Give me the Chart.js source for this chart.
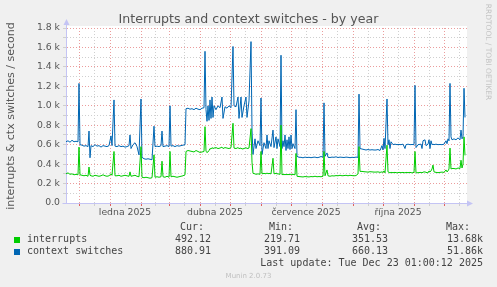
<!DOCTYPE html>
<html>
<head>
<meta charset="utf-8">
<title>Interrupts and context switches - by year</title>
<script src="https://cdn.jsdelivr.net/npm/chart.js@4/dist/chart.umd.min.js"></script>
<style>
  body { margin: 0; background: #f0f0f0; }
  #wrap { position: relative; width: 497px; height: 287px; overflow: hidden; font-family: "DejaVu Sans", sans-serif; color: #555; }
  #chart { position: absolute; left: 0; top: 0; }
  .t { position: absolute; white-space: pre; }
  .mono { font-family: "DejaVu Sans Mono", monospace; font-size: 10px; line-height: 12px; color: #444; }
  .sq { position: absolute; width: 6px; height: 6px; }
</style>
</head>
<body>
<div id="wrap">
  <canvas id="chart" width="497" height="287"></canvas>

  <div class="t" style="left:0; width:497px; top:12px; text-align:center; font-size:12.6px; line-height:14px; color:#555;">Interrupts and context switches - by year</div>
  <div class="t" style="left:-89px; top:109px; width:200px; text-align:center; font-size:11px; line-height:14px; color:#555; transform:rotate(-90deg);">interrupts &amp; ctx switches / second</div>
  <div class="t" style="left:438px; top:48px; width:100px; text-align:center; font-size:7.5px; line-height:8px; color:#c4c4c4; transform:rotate(90deg);">RRDTOOL / TOBI OETIKER</div>

  <div class="t mono" style="right:293px; top:221px;">Cur:</div>
  <div class="t mono" style="right:204px; top:221px;">Min:</div>
  <div class="t mono" style="right:116px; top:221px;">Avg:</div>
  <div class="t mono" style="right:27px; top:221px;">Max:</div>

  <div class="sq" style="left:14px; top:237px; background:#00cc00;"></div>
  <div class="t mono" style="left:27px; top:233px;">interrupts</div>
  <div class="t mono" style="right:286px; top:233px;">492.12</div>
  <div class="t mono" style="right:197px; top:233px;">219.71</div>
  <div class="t mono" style="right:109px; top:233px;">351.53</div>
  <div class="t mono" style="right:14px; top:233px;">13.68k</div>

  <div class="sq" style="left:14px; top:249px; background:#0066b3;"></div>
  <div class="t mono" style="left:27px; top:245px;">context switches</div>
  <div class="t mono" style="right:286px; top:245px;">880.91</div>
  <div class="t mono" style="right:197px; top:245px;">391.09</div>
  <div class="t mono" style="right:109px; top:245px;">660.13</div>
  <div class="t mono" style="right:14px; top:245px;">51.86k</div>

  <div class="t mono" style="right:14px; top:257px;">Last update: Tue Dec 23 01:00:12 2025</div>
  <div class="t" style="left:0; width:497px; top:272px; text-align:center; font-size:7px; line-height:8px; color:#c0c0c0;">Munin 2.0.73</div>
</div>

<script>
// Munin "by year" graph: interrupts and context switches.
// Day 0 = 18 Nov 2024, one unit on the x axis = one day.

// --- data ---

const days = [
  0, 2, 4, 6, 8, 10, 12, 13, 14, 16, 18, 20, 22, 23, 24, 25, 27, 29, 31, 33,
  35, 37, 39, 41, 43, 45, 46, 48, 49, 51, 53, 55, 57, 59, 61, 63, 64, 65, 67, 69,
  71, 73, 75, 76, 78, 80, 82, 84, 86, 88, 89, 91, 93, 95, 96, 97, 99, 101, 103, 104,
  105, 107, 109, 111, 113, 115, 117, 119, 120, 122, 124, 126, 128, 130, 132, 134, 136, 138, 139, 140,
  141, 142, 143, 144, 145, 146, 147, 148, 150, 152, 154, 156, 157, 159, 161, 163, 165, 167, 168, 170,
  172, 173, 175, 176, 178, 180, 181, 183, 185, 186, 187, 189, 190, 192, 194, 195, 196, 198, 200, 201,
  202, 203, 205, 207, 208, 210, 211, 212, 214, 215, 216, 217, 218, 219, 220, 221, 222, 223, 224, 225,
  226, 227, 229, 230, 231, 233, 235, 237, 239, 241, 243, 245, 247, 249, 251, 253, 255, 257, 258, 259,
  261, 262, 264, 266, 268, 270, 272, 274, 276, 278, 280, 282, 284, 286, 288, 290, 292, 293, 294, 296,
  298, 300, 302, 304, 306, 308, 310, 312, 314, 316, 317, 318, 319, 321, 322, 323, 324, 325, 327, 329,
  331, 333, 335, 337, 339, 340, 342, 344, 346, 348, 349, 350, 352, 355, 356, 357, 359, 360, 362, 363,
  364, 365, 366, 367, 368, 370, 372, 374, 376, 378, 380, 381, 382, 383, 384, 385, 386, 388, 390, 392,
  394, 395, 396, 397, 398, 399
];

const contextSwitches = [
  630, 640, 625, 645, 630, 635, 630, 1230, 600, 595, 585, 590, 580, 740, 465, 590, 580, 600, 585, 590,
  575, 590, 585, 580, 590, 690, 590, 1060, 585, 580, 590, 580, 585, 575, 580, 590, 700, 560, 600, 620,
  580, 495, 1070, 470, 455, 450, 455, 450, 445, 790, 580, 585, 580, 590, 740, 580, 585, 590, 580, 1000,
  585, 590, 580, 590, 585, 590, 595, 600, 970, 975, 965, 970, 960, 975, 965, 960, 975, 980, 1560, 960,
  840, 1000, 850, 1060, 870, 1090, 880, 1000, 960, 1000, 980, 1090, 870, 990, 975, 1000, 980, 1610, 1000, 990,
  1090, 870, 1090, 880, 1000, 1090, 880, 1050, 1660, 750, 500, 660, 560, 640, 590, 1080, 500, 620, 560, 700,
  560, 640, 580, 750, 570, 680, 560, 660, 580, 1520, 560, 640, 580, 700, 540, 650, 560, 680, 550, 700,
  560, 610, 560, 960, 480, 470, 470, 465, 472, 468, 470, 466, 470, 472, 466, 470, 478, 472, 1030, 480,
  515, 470, 468, 472, 470, 475, 468, 472, 470, 468, 472, 470, 466, 470, 468, 472, 470, 1120, 560, 555,
  550, 545, 550, 545, 548, 545, 545, 550, 540, 590, 545, 665, 560, 1070, 600, 650, 560, 630, 600, 605,
  600, 602, 600, 605, 560, 600, 605, 600, 602, 600, 1210, 570, 600, 605, 560, 640, 650, 590, 605, 650,
  560, 640, 600, 605, 600, 605, 600, 602, 600, 605, 640, 610, 660, 640, 1230, 680, 650, 660, 650, 670,
  650, 750, 660, 680, 1180, 880
];

const interrupts = [
  300, 310, 295, 300, 290, 295, 290, 575, 290, 285, 280, 285, 275, 370, 285, 280, 275, 285, 280, 275,
  280, 290, 280, 275, 280, 300, 285, 530, 280, 280, 285, 275, 280, 285, 280, 275, 320, 275, 280, 285,
  275, 270, 580, 265, 260, 265, 260, 255, 260, 495, 265, 270, 265, 270, 430, 270, 265, 275, 265, 530,
  270, 275, 270, 265, 270, 275, 280, 290, 530, 540, 535, 530, 525, 540, 530, 520, 525, 530, 785, 530,
  520, 525, 540, 560, 555, 570, 560, 565, 570, 560, 565, 575, 560, 570, 565, 560, 570, 820, 565, 560,
  570, 560, 565, 555, 560, 570, 560, 565, 765, 420, 305, 300, 295, 300, 295, 530, 300, 305, 300, 310,
  300, 305, 300, 460, 300, 305, 300, 300, 295, 800, 290, 295, 290, 295, 290, 295, 290, 295, 290, 300,
  290, 295, 290, 510, 275, 272, 270, 268, 272, 270, 268, 272, 270, 275, 270, 272, 270, 275, 530, 280,
  340, 280, 275, 280, 278, 282, 280, 285, 280, 282, 285, 280, 285, 282, 280, 282, 300, 580, 325, 325,
  322, 320, 318, 322, 320, 318, 318, 320, 315, 320, 315, 330, 310, 595, 320, 315, 310, 315, 312, 315,
  310, 315, 312, 315, 310, 315, 312, 315, 310, 315, 530, 310, 312, 315, 310, 318, 320, 315, 310, 330,
  320, 330, 350, 390, 320, 315, 312, 315, 318, 315, 340, 320, 330, 350, 565, 350, 355, 355, 350, 360,
  355, 440, 360, 400, 680, 490
];

// tick positions (days) and labels
const monthStarts = [13, 44, 75, 103, 134, 164, 195, 225, 256, 287, 317, 348, 378];
const midMonths = [28, 59, 89, 118, 149, 179, 210, 240, 271, 302, 332, 363, 393];
const xLabels = { 59: "ledna 2025", 149: "dubna 2025", 240: "července 2025", 332: "října 2025" };
const yTicks = [0, 100, 200, 300, 400, 500, 600, 700, 800, 900, 1000, 1100, 1200, 1300, 1400, 1500, 1600, 1700, 1800];

// --- style ---

const GREEN = "#00cc00";
const BLUE = "#0066b3";
const MAJOR_GRID = "#eb9c9c";
const MINOR_GRID = "#cfcfcf";
const AXIS = "#c4c4f4";
const TICK_FONT = { family: "DejaVu Sans", size: 9.3 };

function data_points(values) {
  return values.map(function (v, i) {
    return { x: days[i], y: v };
  });
}

// white plot area, axis arrows
const plotDecor = {
  id: "plotDecor",
  beforeDraw: function (chart) {
    const a = chart.chartArea;
    const ctx = chart.ctx;
    ctx.save();
    ctx.fillStyle = "#ffffff";
    ctx.fillRect(a.left, a.top - 2, a.right - a.left, a.bottom - a.top + 2);
    ctx.restore();
  },
  afterDraw: function (chart) {
    const a = chart.chartArea;
    const ctx = chart.ctx;
    const x0 = Math.round(a.left) + 0.5;
    const y0 = Math.round(a.bottom) + 0.5;
    ctx.save();
    ctx.strokeStyle = AXIS;
    ctx.fillStyle = AXIS;
    ctx.lineWidth = 1;
    ctx.beginPath();
    ctx.moveTo(x0, a.top);
    ctx.lineTo(x0, a.top - 4);
    ctx.moveTo(x0 - 4, y0);
    ctx.lineTo(x0, y0);
    ctx.moveTo(a.right, y0);
    ctx.lineTo(a.right + 1, y0);
    ctx.stroke();
    ctx.beginPath();
    ctx.moveTo(x0, a.top - 9);
    ctx.lineTo(x0 - 3, a.top - 3);
    ctx.lineTo(x0 + 3, a.top - 3);
    ctx.closePath();
    ctx.fill();
    ctx.beginPath();
    ctx.moveTo(a.right + 6, y0);
    ctx.lineTo(a.right, y0 - 3);
    ctx.lineTo(a.right, y0 + 3);
    ctx.closePath();
    ctx.fill();
    ctx.restore();
  }
};

function chart_init(canvas) {
  const xTicks = monthStarts.concat(midMonths).sort(function (a, b) { return a - b; });

  return new Chart(canvas, {
    type: "line",
    data: {
      datasets: [
        {
          label: "interrupts",
          data: data_points(interrupts),
          borderColor: GREEN,
          borderWidth: 1,
          pointRadius: 0,
          tension: 0
        },
        {
          label: "context switches",
          data: data_points(contextSwitches),
          borderColor: BLUE,
          borderWidth: 1,
          pointRadius: 0,
          tension: 0
        }
      ]
    },
    options: {
      responsive: false,
      animation: false,
      devicePixelRatio: 1,
      layout: { padding: { left: 0, top: 28, right: 30, bottom: 64 } },
      plugins: { legend: { display: false }, tooltip: { enabled: false }, title: { display: false } },
      scales: {
        x: {
          type: "linear",
          min: 0,
          max: 401,
          afterBuildTicks: function (scale) {
            scale.ticks = xTicks.map(function (v) { return { value: v }; });
          },
          afterFit: function (scale) { scale.height = 20; },
          ticks: {
            autoSkip: false,
            maxRotation: 0,
            padding: 1,
            color: "#555",
            font: TICK_FONT,
            callback: function (value) { return xLabels[value] || ""; }
          },
          grid: {
            color: function (c) { return c.tick && monthStarts.indexOf(c.tick.value) >= 0 ? MAJOR_GRID : MINOR_GRID; },
            tickColor: function (c) { return c.tick && monthStarts.indexOf(c.tick.value) >= 0 ? "#e06060" : MINOR_GRID; },
            tickLength: 3
          },
          border: { color: AXIS, dash: [1, 2] }
        },
        y: {
          min: 0,
          max: 1800,
          afterBuildTicks: function (scale) {
            scale.ticks = yTicks.map(function (v) { return { value: v }; });
          },
          afterFit: function (scale) { scale.width = 66; },
          ticks: {
            autoSkip: false,
            padding: 3,
            color: "#555",
            font: TICK_FONT,
            callback: function (value) {
              if (value % 200 !== 0) return "";
              return value === 0 ? "0.0" : (value / 1000).toFixed(1) + " k";
            }
          },
          grid: {
            color: function (c) { return c.tick && c.tick.value % 200 === 0 ? MAJOR_GRID : MINOR_GRID; },
            tickColor: MINOR_GRID,
            tickLength: 3
          },
          border: { color: AXIS, dash: [1, 2] }
        }
      }
    },
    plugins: [plotDecor]
  });
}

document.addEventListener("DOMContentLoaded", function () {
  chart_init(document.getElementById("chart"));
});
</script>
</body>
</html>
